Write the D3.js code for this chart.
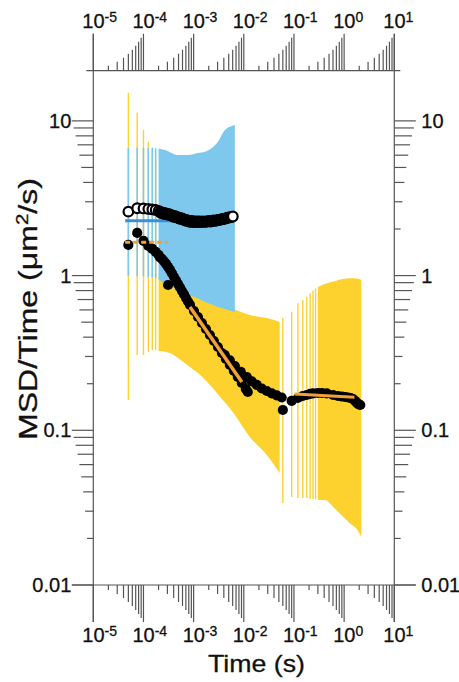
<!DOCTYPE html>
<html><head><meta charset="utf-8">
<script src="https://cdn.jsdelivr.net/npm/d3@7"></script>
<style>
body{margin:0;background:#fff}
svg{display:block}
text{font-family:"Liberation Sans",Arial,Helvetica,sans-serif;fill:#111;stroke:#111;stroke-width:0.3px}
</style>
</head><body>
<svg id="chart" width="459" height="682"></svg>
<script>
// ---------------- data ----------------
const xDecades = [-5, -4, -3, -2, -1, 0, 1];
const yTickValues = [0.01, 0.1, 1, 10];
const yTickLabels = ["0.01", "0.1", "1", "10"];

// blue error band (open circles) - separate bars at short lags
const blueBarT  = [5e-5, 7.5e-5, 1e-4, 1.25e-4, 1.5e-4, 1.75e-4];
const blueBarHi = [6.7, 6.7, 6.7, 6.7, 6.7, 6.65];
const blueBarLo = [0.99, 0.99, 0.99, 0.98, 0.97, 0.96];
// blue error band - dense part
const blueT  = [2.0e-4, 2.69e-4, 4.89e-4, 7.72e-4, 1.22e-3, 1.68e-3, 2.31e-3, 3.05e-3, 4.19e-3, 5.27e-3, 6.63e-3];
const blueHi = [6.63, 6.49, 6.02, 6.02, 6.20, 6.32, 6.68, 7.34, 8.73, 9.17, 9.41];
const blueLo = [0.951, 0.882, 0.807, 0.755, 0.711, 0.675, 0.650, 0.627, 0.608, 0.595, 0.582];

// yellow error band 1 (filled circles, short times)
const yel1BarT  = [5e-5, 7.5e-5, 1e-4, 1.25e-4, 1.5e-4, 1.75e-4];
const yel1BarHi = [15.2, 11.3, 8.73, 7.34, 6.5, 5.6];
const yel1BarLo = [0.157, 0.307, 0.307, 0.321, 0.330, 0.330];
const yel1T  = [2.0e-4, 3.39e-4, 4.89e-4, 8.46e-4, 1.22e-3, 2.91e-3, 6.63e-3, 1.32e-2, 2.87e-2, 5.19e-2];
const yel1Hi = [0.994, 0.909, 0.857, 0.807, 0.761, 0.665, 0.604, 0.556, 0.532, 0.501];
const yel1Lo = [0.3255, 0.316, 0.2934, 0.2566, 0.2347, 0.1742, 0.1256, 0.0905, 0.0692, 0.0530];

// yellow error band 2 (filled circles, long times)
const yel2BarT  = [0.06, 0.09, 0.12, 0.15, 0.18, 0.21, 0.24, 0.27];
const yel2BarHi = [0.532, 0.584, 0.662, 0.696, 0.731, 0.768, 0.801, 0.825];
const yel2BarLo = [0.0339, 0.0371, 0.0365, 0.0365, 0.0365, 0.0359, 0.0359, 0.0359];
const yel2T  = [0.30, 0.407, 0.695, 1.277, 1.84, 2.2];
const yel2Hi = [0.844, 0.882, 0.927, 0.961, 0.959, 0.937];
const yel2Lo = [0.0354, 0.0354, 0.0305, 0.0252, 0.0227, 0.0204];

// open circles
const openT = [5e-5, 7.5e-5, 1e-4, 1.25e-4, 1.5e-4, 1.75e-4, 2e-4,
  2.145e-4, 2.245e-4, 2.35e-4, 2.46e-4, 2.575e-4, 2.695e-4, 2.82e-4, 2.953e-4, 3.09e-4, 3.236e-4,
  3.39e-4, 3.546e-4, 3.71e-4, 3.886e-4, 4.07e-4, 4.258e-4, 4.46e-4, 4.667e-4, 4.89e-4, 5.114e-4,
  5.35e-4, 5.604e-4, 5.87e-4, 6.141e-4, 6.43e-4, 6.73e-4, 7.05e-4, 7.375e-4, 7.72e-4, 8.08e-4,
  8.46e-4, 8.855e-4, 9.27e-4, 9.70e-4, 1.016e-3, 1.063e-3, 1.113e-3, 1.165e-3, 1.22e-3, 1.277e-3,
  1.337e-3, 1.432e-3, 1.533e-3, 1.642e-3, 1.759e-3, 1.884e-3, 2.017e-3, 2.161e-3, 2.313e-3, 2.479e-3,
  2.655e-3, 2.843e-3, 3.045e-3, 3.262e-3, 3.49e-3, 3.741e-3, 4.01e-3, 4.291e-3, 4.60e-3, 4.923e-3,
  5.27e-3, 5.647e-3, 6.05e-3];
const openV = [2.589, 2.723, 2.715, 2.695, 2.675, 2.655, 2.616,
  2.577, 2.539, 2.558, 2.520, 2.539, 2.502, 2.520, 2.483, 2.502, 2.465,
  2.483, 2.447, 2.447, 2.410, 2.429, 2.393, 2.410, 2.375, 2.375, 2.340,
  2.357, 2.322, 2.340, 2.305, 2.305, 2.271, 2.288, 2.254, 2.271, 2.237,
  2.254, 2.221, 2.254, 2.221, 2.237, 2.221, 2.237, 2.221, 2.237, 2.221,
  2.237, 2.221, 2.237, 2.221, 2.237, 2.237, 2.254, 2.237, 2.254, 2.271,
  2.254, 2.271, 2.288, 2.288, 2.305, 2.322, 2.322, 2.340, 2.357, 2.375,
  2.375, 2.393, 2.410];

// filled circles, short times
const fill1T = [5e-5, 7.5e-5, 1e-4, 1.25e-4, 1.5e-4, 1.75e-4, 2e-4,
  2.145e-4, 2.35e-4, 2.575e-4, 2.82e-4, 3.09e-4, 3.09e-4, 3.39e-4, 3.71e-4, 4.07e-4, 4.46e-4,
  4.89e-4, 5.35e-4, 5.87e-4, 6.43e-4, 7.05e-4, 7.72e-4,
  8.46e-4, 1.016e-3, 1.22e-3, 1.465e-3, 1.759e-3, 2.111e-3, 2.536e-3, 3.045e-3, 3.658e-3,
  4.19e-3, 4.392e-3, 5.27e-3, 5.27e-3, 6.33e-3, 6.63e-3, 7.60e-3, 8.72e-3, 9.13e-3, 1.096e-2,
  1.148e-2, 1.201e-2, 1.443e-2, 1.813e-2, 2.28e-2, 2.87e-2, 3.60e-2, 4.53e-2, 5.69e-2];
const fill1V = [1.577, 1.886, 1.674, 1.554, 1.486, 1.421, 1.359,
  1.309, 1.280, 1.234, 1.189, 1.137, 0.869, 1.087, 1.032, 0.979, 0.930,
  0.882, 0.838, 0.795, 0.755, 0.716, 0.680,
  0.6457, 0.5904, 0.5399, 0.4938, 0.4516, 0.4130, 0.3777, 0.3454, 0.316,
  0.3067, 0.289, 0.2827, 0.2643, 0.2417, 0.2604, 0.2211, 0.2382, 0.2023, 0.1849,
  0.2211, 0.1768, 0.2068, 0.1963, 0.1863, 0.1795, 0.173, 0.1679, 0.1629];

// filled circles, long times
const fill2T = [0.06, 0.09, 0.12, 0.15, 0.18, 0.21, 0.24, 0.30, 0.36, 0.45, 0.6, 0.75, 0.9,
  1.05, 1.2, 1.35, 1.5, 1.65, 1.8, 1.95, 2.1];
const fill2V = [0.1353, 0.1547, 0.1617, 0.1666, 0.1691, 0.1717, 0.173, 0.1742, 0.1742, 0.173,
  0.1691, 0.1666, 0.1653, 0.1641, 0.1629, 0.1617, 0.1593, 0.1547, 0.1502, 0.1469, 0.1457];

// fit lines
const fitBlueT = [4.32e-5, 6.63e-3],  fitBlueV = [2.26, 2.26];
const fitDashT = [4.32e-5, 3.09e-4],  fitDashV = [1.64, 1.64];
const fitOr1T  = [8.46e-4, 9.13e-3],  fitOr1V  = [0.627, 0.205];
const fitOr2T  = [0.1031, 1.605],     fitOr2V  = [0.1716, 0.1634];

// ---------------- drawing ----------------
const svg = d3.select("#chart");
const x = d3.scaleLog().domain([1e-5, 10]).range([93.3, 394.3]);
const y = d3.scaleLog().domain([0.01, 21.1]).range([585, 70.7]);

const YELLOW = "#fdd22e", BLUE = "#7ec8ee", ORANGE = "#f2a139", FITBLUE = "#3b8ed6";
const AX = "#555";

const zip = (t, a, b) => t.map((d, i) => ({t: d, hi: a[i], lo: b[i]}));

function bars(g, t, hi, lo, color, w) {
  g.selectAll(null).data(zip(t, hi, lo)).join("line")
    .attr("x1", d => x(d.t)).attr("x2", d => x(d.t))
    .attr("y1", d => y(d.hi)).attr("y2", d => y(d.lo))
    .attr("stroke", color).attr("stroke-width", w);
}
function band(g, t, hi, lo, color) {
  const area = d3.area().x(d => x(d.t)).y0(d => y(d.lo)).y1(d => y(d.hi)).curve(d3.curveMonotoneX);
  g.append("path").datum(zip(t, hi, lo)).attr("d", area).attr("fill", color);
}

const plot = svg.append("g");
bars(plot, yel1BarT, yel1BarHi, yel1BarLo, YELLOW, 1.4);
band(plot, yel1T, yel1Hi, yel1Lo, YELLOW);
bars(plot, yel2BarT, yel2BarHi, yel2BarLo, YELLOW, 1.4);
band(plot, yel2T, yel2Hi, yel2Lo, YELLOW);
bars(plot, blueBarT, blueBarHi, blueBarLo, BLUE, 1.6);
band(plot, blueT, blueHi, blueLo, BLUE);

const line = d3.line().x(d => x(d[0])).y(d => y(d[1]));
const pts = (t, v) => t.map((d, i) => [d, v[i]]);

plot.append("path").attr("d", line(pts(fitBlueT, fitBlueV)))
  .attr("stroke", FITBLUE).attr("stroke-width", 3).attr("fill", "none");

// open circles
plot.selectAll(null).data(pts(openT, openV)).join("circle")
  .attr("cx", d => x(d[0])).attr("cy", d => y(d[1])).attr("r", 4.8)
  .attr("fill", "#fff").attr("stroke", "#000").attr("stroke-width", 2.2);

// filled circles
plot.selectAll(null).data(pts(fill1T, fill1V).concat(pts(fill2T, fill2V))).join("circle")
  .attr("cx", d => x(d[0])).attr("cy", d => y(d[1])).attr("r", 5.1)
  .attr("fill", "#000");

// orange fits
plot.append("path").attr("d", line(pts(fitDashT, fitDashV)))
  .attr("stroke", ORANGE).attr("stroke-width", 3).attr("fill", "none").attr("stroke-dasharray", "5,3");
plot.append("path").attr("d", line(pts(fitOr1T, fitOr1V)))
  .attr("stroke", ORANGE).attr("stroke-width", 3.5).attr("fill", "none");
plot.append("path").attr("d", line(pts(fitOr2T, fitOr2V)))
  .attr("stroke", ORANGE).attr("stroke-width", 3).attr("fill", "none");

// ---------------- axes ----------------
const ax = svg.append("g").attr("stroke", AX).attr("stroke-width", 1.2);
const X0 = x(1e-5), X1 = x(10), YT = y(21.1), YB = y(0.01);

const xTicks = [];
xDecades.forEach(d => {
  const kmax = d === 1 ? 1 : 9;
  for (let k = 1; k <= kmax; k++) xTicks.push({v: k * Math.pow(10, d), len: k === 1 ? 37 : 4 * k - 3});
});
ax.selectAll(null).data(xTicks).join("line")
  .attr("x1", d => x(d.v)).attr("x2", d => x(d.v))
  .attr("y1", YT).attr("y2", d => YT - d.len);
ax.selectAll(null).data(xTicks).join("line")
  .attr("x1", d => x(d.v)).attr("x2", d => x(d.v))
  .attr("y1", YB).attr("y2", d => YB + d.len);

const yTicks = [];
[-2, -1, 0, 1].forEach(d => {
  const kmax = d === 1 ? 1 : 9;
  for (let k = 1; k <= kmax; k++) yTicks.push({v: k * Math.pow(10, d), len: k === 1 ? 21.5 : 1.9 * k + 2.5});
});
ax.selectAll(null).data(yTicks).join("line")
  .attr("y1", d => y(d.v)).attr("y2", d => y(d.v))
  .attr("x1", X0).attr("x2", d => X0 - d.len);
ax.selectAll(null).data(yTicks).join("line")
  .attr("y1", d => y(d.v)).attr("y2", d => y(d.v))
  .attr("x1", X1).attr("x2", d => X1 + d.len);

ax.append("line").attr("x1", X0).attr("x2", X0).attr("y1", YT - 37).attr("y2", YB + 37);
ax.append("line").attr("x1", X1).attr("x2", X1).attr("y1", YT - 37).attr("y2", YB + 37);
ax.append("line").attr("x1", X0 - 7).attr("x2", X1 + 6).attr("y1", YT).attr("y2", YT);
ax.append("line").attr("x1", X0 - 21.5).attr("x2", X1 + 21.5).attr("y1", YB).attr("y2", YB);

function xLabel(d, baseY) {
  const t = svg.append("text").attr("x", x(Math.pow(10, d)) - 11).attr("y", baseY).attr("font-size", 20);
  t.append("tspan").text("10");
  t.append("tspan").attr("dy", -6).attr("font-size", 14).text(String(d));
}
xDecades.forEach(d => { xLabel(d, 28); xLabel(d, 642); });

yTickValues.forEach((v, i) => {
  svg.append("text").attr("x", X0 - 22).attr("y", y(v) + 7).attr("text-anchor", "end")
    .attr("font-size", 20).text(yTickLabels[i]);
  svg.append("text").attr("x", X1 + 27).attr("y", y(v) + 7).attr("text-anchor", "start")
    .attr("font-size", 20).text(yTickLabels[i]);
});

svg.append("text").attr("x", 256.5).attr("y", 672).attr("text-anchor", "middle")
  .attr("font-size", 24).attr("textLength", 97).attr("lengthAdjust", "spacingAndGlyphs").text("Time (s)");

const yt = svg.append("text").attr("transform", "translate(37,309) rotate(-90)")
  .attr("text-anchor", "middle").attr("font-size", 25)
  .attr("textLength", 262).attr("lengthAdjust", "spacingAndGlyphs");
yt.append("tspan").text("MSD/Time (\u03bcm");
yt.append("tspan").attr("dy", -9).attr("font-size", 16).text("2");
yt.append("tspan").attr("dy", 9).text("/s)");
</script>
</body></html>
